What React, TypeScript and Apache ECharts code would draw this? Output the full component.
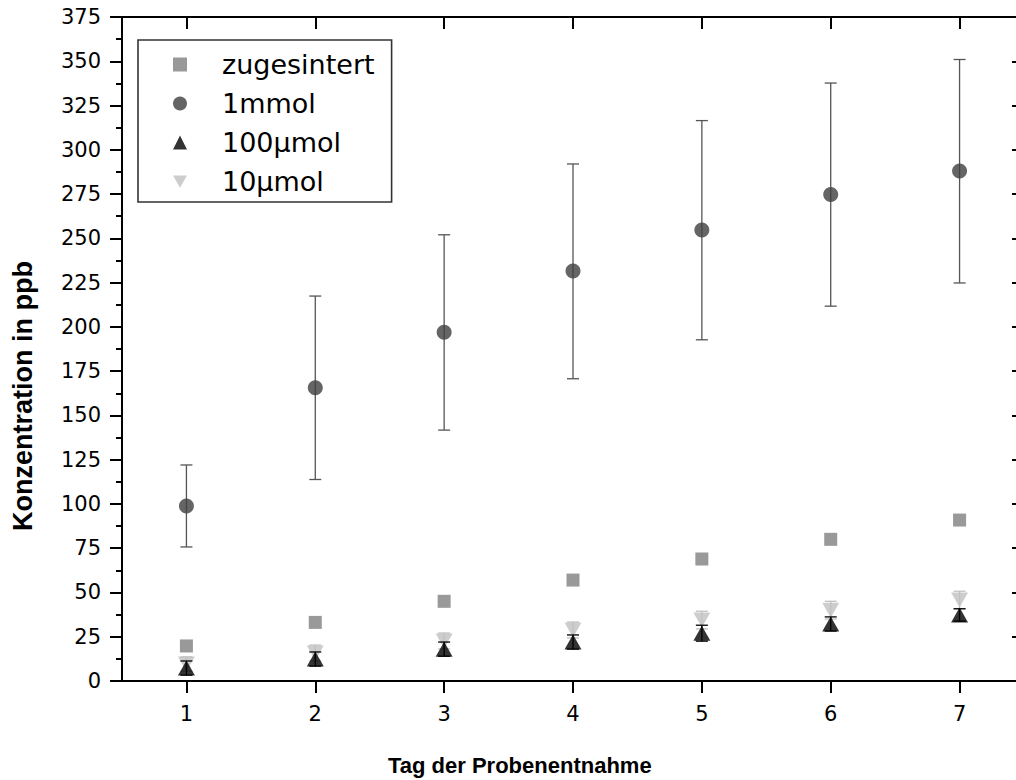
import React, { useEffect, useRef } from "react";
import * as echarts from "echarts";

const days = [1, 2, 3, 4, 5, 6, 7];
const yTicks = [0, 25, 50, 75, 100, 125, 150, 175, 200, 225, 250, 275, 300, 325, 350, 375];

const seriesNames = ["zugesintert", "1mmol", "100µmol", "10µmol"];

const zugesintert = [19.8, 33.1, 45, 57, 68.9, 80, 90.9];

const mmol1 = [98.8, 165.6, 197, 231.5, 254.7, 274.7, 288];
const mmol1High = [122, 217.4, 252, 292, 316.5, 337.7, 351];
const mmol1Low = [75.7, 113.8, 141.7, 170.7, 192.7, 211.7, 224.8];

const umol100 = [7.3, 12.4, 18, 22, 27, 32.2, 37.3];
const umol100Err = [4, 4, 4, 4, 4.5, 4, 3.5];

const umol10 = [9.6, 15.8, 22.6, 28.8, 34.4, 40, 45.7];
const umol10Err = [4, 4.5, 4.5, 4.5, 5, 5, 5];

function errSeries(name: string, low: number[], high: number[], color: string, width: number, z: number) {
  return {
    type: "custom",
    name,
    silent: true,
    z,
    data: days.map((d, i) => [d, low[i], high[i]]),
    encode: { x: 0, y: [1, 2] },
    renderItem: (params: any, api: any) => {
      const x = api.value(0);
      const top = api.coord([x, api.value(2)]);
      const bot = api.coord([x, api.value(1)]);
      const hw = 6;
      const st = { stroke: color, lineWidth: width };
      return {
        type: "group",
        children: [
          { type: "line", shape: { x1: top[0], y1: top[1], x2: bot[0], y2: bot[1] }, style: st },
          { type: "line", shape: { x1: top[0] - hw, y1: top[1], x2: top[0] + hw, y2: top[1] }, style: st },
          { type: "line", shape: { x1: bot[0] - hw, y1: bot[1], x2: bot[0] + hw, y2: bot[1] }, style: st },
        ],
      };
    },
  };
}

export default function App() {
  const ref = useRef<HTMLDivElement>(null);
  useEffect(() => {
    if (!ref.current) return;
    document.body.style.overflow = "hidden";
    document.documentElement.style.overflow = "hidden";
    const chart = echarts.init(ref.current, undefined, { renderer: "svg" });
    const mk = (show = true) => ({ show, onZero: false, lineStyle: { color: "#000", width: 2 } });
    const tk = (inside: boolean, vals?: number[]) => {
      const t: any = { show: true, inside, length: 12, lineStyle: { color: "#000", width: 2 } };
      if (vals) t.customValues = vals;
      return t;
    };
    const option: any = {
      animation: false,
      backgroundColor: "#fff",
      grid: { left: 122, top: 17, right: -8, height: 664, outerBoundsMode: "none", containLabel: false },
      legend: {
        data: [
          { name: seriesNames[0], icon: "rect" },
          { name: seriesNames[1], icon: "circle" },
          { name: seriesNames[2], icon: "triangle" },
          { name: seriesNames[3], icon: "path://M0,0L16,0L8,14Z" },
        ],
        orient: "vertical",
        left: 138,
        top: 40,
        padding: [11, 17, 7, 35],
        itemWidth: 14,
        itemHeight: 14,
        itemGap: 12,
        borderColor: "#333",
        borderWidth: 1.6,
        selectedMode: false,
        textStyle: {
          fontFamily: "DejaVu Sans",
          fontSize: 27,
          color: "#000",
          lineHeight: 27,
          padding: [0, 0, 0, 30],
        },
      },
      xAxis: [
        {
          type: "value",
          min: 0.5,
          max: 7.5,
          position: "bottom",
          axisLine: mk(),
          splitLine: { show: false },
          axisTick: tk(false, days),
          axisLabel: {
            show: true,
            margin: 22,
            customValues: days,
            fontFamily: "DejaVu Sans",
            fontSize: 21,
            color: "#000",
          },
        },
        {
          type: "value",
          min: 0.5,
          max: 7.5,
          position: "top",
          axisLine: mk(),
          splitLine: { show: false },
          axisTick: tk(true, days),
          axisLabel: { show: false },
        },
      ],
      yAxis: [
        {
          type: "value",
          min: 0,
          max: 375,
          interval: 25,
          position: "left",
          axisLine: mk(),
          splitLine: { show: false },
          axisTick: tk(false),
          minorTick: { show: true, splitNumber: 2, length: 6, lineStyle: { color: "#000", width: 2 } },
          axisLabel: {
            show: true,
            margin: 21,
            fontFamily: "DejaVu Sans",
            fontSize: 21,
            color: "#000",
            customValues: yTicks,
          },
        },
        {
          type: "value",
          min: 0,
          max: 375,
          interval: 25,
          position: "right",
          axisLine: mk(false),
          splitLine: { show: false },
          axisTick: tk(true),
          axisLabel: { show: false },
        },
      ],
      graphic: [
        {
          type: "text",
          x: 23,
          y: 396,
          rotation: Math.PI / 2,
          style: {
            text: "Konzentration in ppb",
            fontFamily: "Liberation Sans",
            fontWeight: "bold",
            fontSize: 27,
            fill: "#000",
            align: "center",
            verticalAlign: "middle",
          },
        },
        {
          type: "text",
          x: 388,
          y: 765,
          style: {
            text: "Tag der Probenentnahme",
            fontFamily: "Liberation Sans",
            fontWeight: "bold",
            fontSize: 22,
            fill: "#000",
            align: "left",
            verticalAlign: "middle",
          },
        },
      ],
      series: [
        errSeries("err1mmol", mmol1Low, mmol1High, "#555", 1.3, 2),
        errSeries(
          "err10umol",
          umol10.map((v, i) => v - umol10Err[i]),
          umol10.map((v, i) => v + umol10Err[i]),
          "#c0c0c0",
          1.3,
          2
        ),
        {
          type: "scatter",
          name: seriesNames[0],
          z: 3,
          symbol: "rect",
          symbolSize: 13,
          itemStyle: { color: "#808080" },
          data: days.map((d, i) => [d, zugesintert[i]]),
        },
        {
          type: "scatter",
          name: seriesNames[1],
          z: 3,
          symbol: "circle",
          symbolSize: 15,
          itemStyle: { color: "#3e3e3e" },
          data: days.map((d, i) => [d, mmol1[i]]),
        },
        {
          type: "scatter",
          name: seriesNames[3],
          z: 3,
          symbol: "triangle",
          symbolRotate: 180,
          symbolSize: [17, 15],
          itemStyle: { color: "#c0c0c0" },
          data: days.map((d, i) => [d, umol10[i]]),
        },
        {
          type: "scatter",
          name: seriesNames[2],
          z: 4,
          symbol: "triangle",
          symbolSize: [17, 15],
          itemStyle: { color: "#000" },
          data: days.map((d, i) => [d, umol100[i]]),
        },
        errSeries(
          "err100umol",
          umol100.map((v, i) => v - umol100Err[i]),
          umol100.map((v, i) => v + umol100Err[i]),
          "#000",
          1.3,
          5
        ),
      ],
    };
    chart.setOption(option);
    return () => chart.dispose();
  }, []);
  return (
    <div
      ref={ref}
      style={{ position: "fixed", left: 0, top: 0, width: 1016, height: 780, background: "#fff" }}
    />
  );
}
